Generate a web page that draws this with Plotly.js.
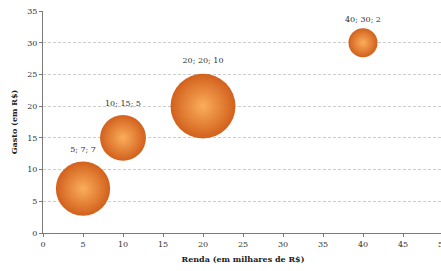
<!DOCTYPE html>
<html>
<head>
<meta charset="utf-8">
<script src="https://cdn.plot.ly/plotly-3.0.1.min.js"></script>
<style>
html,body{margin:0;padding:0;overflow:hidden;background:#fff;width:441px;height:271px;}
#chart{width:460px;height:271px;}
</style>
</head>
<body>
<div id="chart"></div>
<script>
const renda = [5, 10, 20, 40];
const gasto = [7, 15, 20, 30];
const tamanho = [7, 5, 10, 2];
const rotulos = renda.map((r, i) => r + '; ' + gasto[i] + '; ' + tamanho[i]);
const xTicks = [0, 5, 10, 15, 20, 25, 30, 35, 40, 45, 50];
const yTicks = [0, 5, 10, 15, 20, 25, 30, 35];

const fontFam = 'DejaVu Serif, Liberation Serif, serif';

const trace = {
  type: 'scatter',
  mode: 'markers+text',
  x: renda,
  y: gasto,
  text: rotulos,
  textposition: 'top center',
  textfont: {family: fontFam, size: 8, color: '#303030'},
  marker: {
    size: tamanho,
    sizemode: 'area',
    sizeref: 0.00475,
    color: '#d2601c',
    gradient: {type: 'radial', color: '#fbae5c'},
    line: {width: 0},
    opacity: 1
  },
  cliponaxis: false,
  hoverinfo: 'none'
};

const layout = {
  width: 460,
  height: 271,
  margin: {l: 43, r: 17, t: 11, b: 38},
  paper_bgcolor: '#fff',
  plot_bgcolor: '#fff',
  showlegend: false,
  font: {family: fontFam, size: 8, color: '#303030'},
  xaxis: {
    range: [0, 50],
    tickvals: xTicks,
    ticktext: xTicks.map(String),
    showgrid: false,
    zeroline: false,
    showline: true,
    linecolor: '#7a7a7a',
    linewidth: 1,
    ticks: 'outside',
    ticklen: 3,
    tickcolor: '#7a7a7a',
    tickfont: {family: fontFam, size: 8, color: '#303030'},
    title: {text: '<b>Renda (em milhares de R$)</b>', font: {family: fontFam, size: 8, color: '#202020'}, standoff: 8}
  },
  yaxis: {
    range: [0, 35],
    tickvals: yTicks,
    ticktext: yTicks.map(String),
    showgrid: true,
    gridcolor: '#cccccc',
    griddash: '3px,2px',
    gridwidth: 1,
    zeroline: false,
    showline: true,
    linecolor: '#7a7a7a',
    linewidth: 1,
    ticks: 'outside',
    ticklen: 3,
    tickcolor: '#7a7a7a',
    tickfont: {family: fontFam, size: 8, color: '#303030'},
    title: {text: '<b>Gasto (em R$)</b>', font: {family: fontFam, size: 8, color: '#202020'}, standoff: 8}
  }
};

Plotly.newPlot('chart', [trace], layout, {displayModeBar: false, staticPlot: true});
</script>
</body>
</html>
